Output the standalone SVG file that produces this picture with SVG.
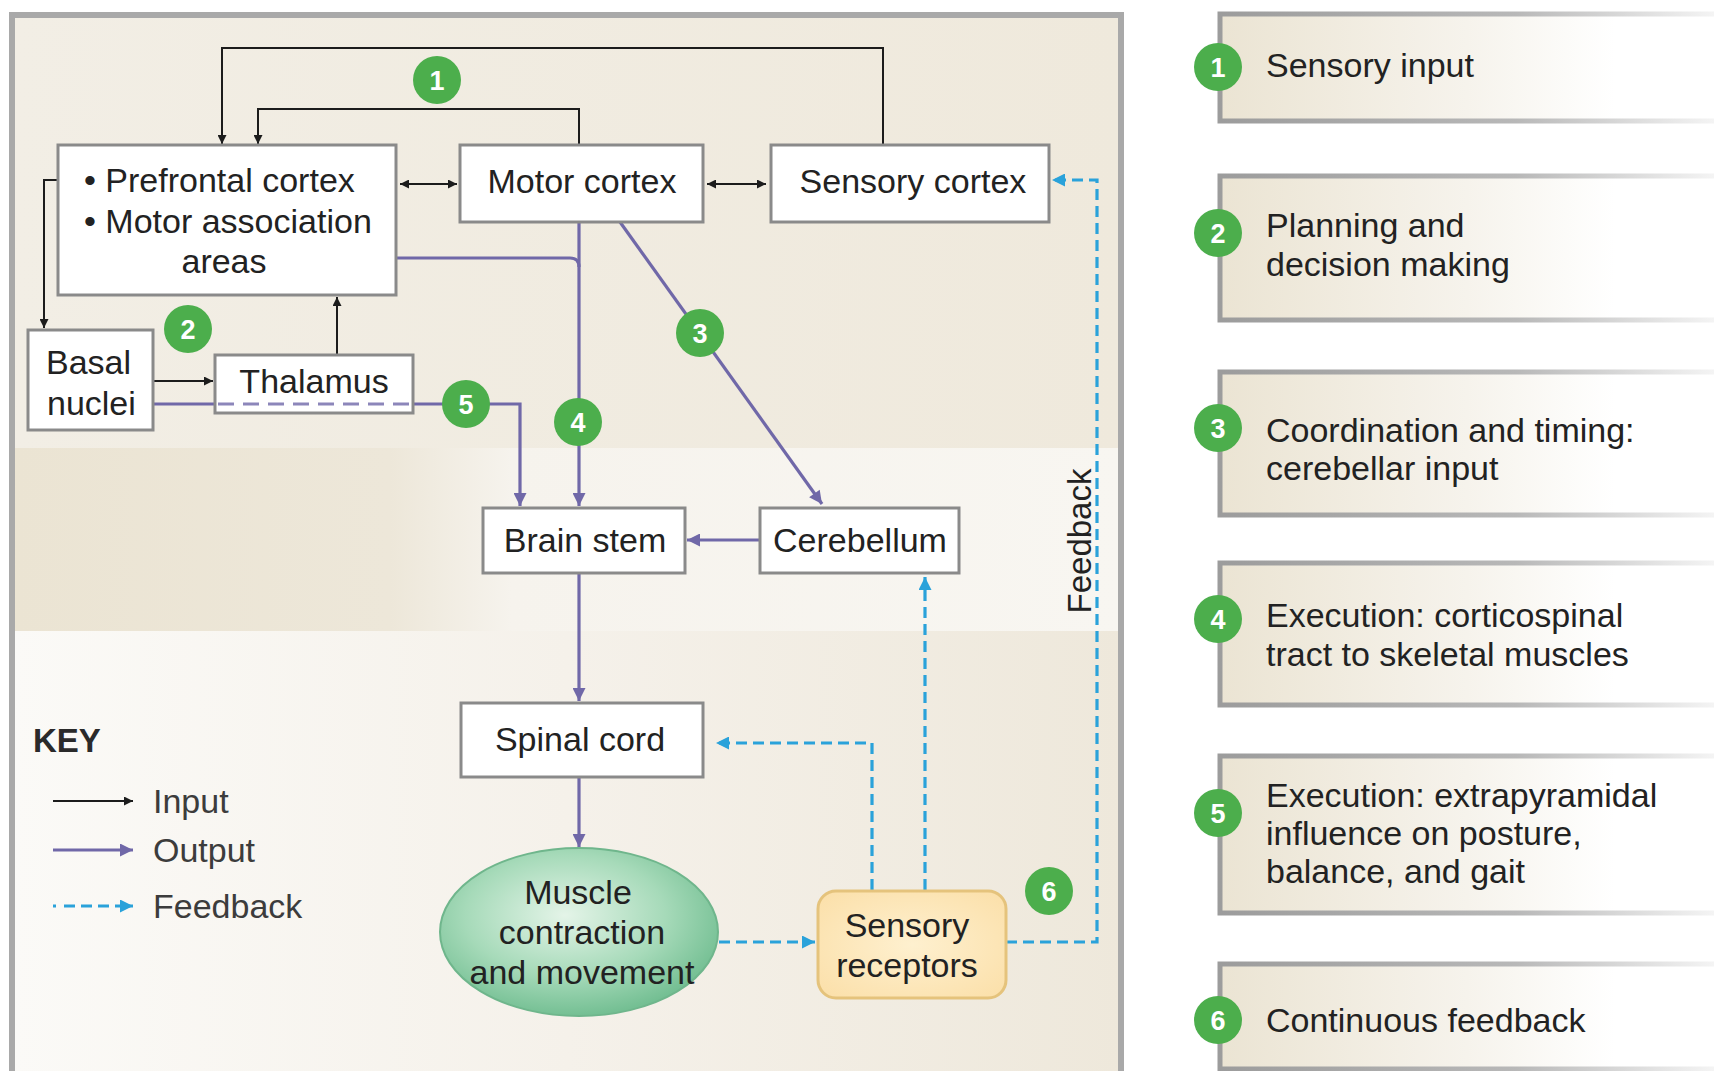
<svg xmlns="http://www.w3.org/2000/svg" width="1714" height="1071" viewBox="0 0 1714 1071">
<defs>
<style>
.t{font-family:"Liberation Sans",Arial,Helvetica,sans-serif;font-size:34px;fill:#222;}
.tc{text-anchor:middle;}
.key{font-family:"Liberation Sans",Arial,sans-serif;font-size:34px;fill:#3c3c3c;}
.box{fill:#fff;stroke:#8a8a8a;stroke-width:3;}
.in{fill:none;stroke:#1c1c1c;stroke-width:2;}
.out{fill:none;stroke:#7068a8;stroke-width:3.2;}
.fb{fill:none;stroke:#2aa2da;stroke-width:3.2;stroke-dasharray:11 6;}
.num circle{fill:#4cae4c;}
.num text{font-family:"Liberation Sans",Arial,sans-serif;font-size:27px;font-weight:bold;fill:#fff;text-anchor:middle;}
</style>
<marker id="aIn" viewBox="0 0 10 10" refX="10" refY="5" markerWidth="12" markerHeight="9" markerUnits="userSpaceOnUse" orient="auto-start-reverse"><path d="M0,0 L10,5 L0,10 z" fill="#1c1c1c"/></marker>
<marker id="aOut" viewBox="0 0 10 10" refX="10" refY="5" markerWidth="17" markerHeight="13" markerUnits="userSpaceOnUse" orient="auto"><path d="M0,0 L10,5 L0,10 z" fill="#7068a8"/></marker>
<marker id="aFb" viewBox="0 0 10 10" refX="10" refY="5" markerWidth="17" markerHeight="13" markerUnits="userSpaceOnUse" orient="auto"><path d="M0,0 L10,5 L0,10 z" fill="#2aa2da"/></marker>
<linearGradient id="gTop" x1="0" y1="0" x2="1" y2="0"><stop offset="0" stop-color="#f2eee5"/><stop offset="1" stop-color="#efe9dc"/></linearGradient>
<linearGradient id="gMid" x1="0" y1="0" x2="1" y2="0"><stop offset="0" stop-color="#ebe4d3"/><stop offset="0.34" stop-color="#ede7d9"/><stop offset="0.45" stop-color="#f6f3ed"/><stop offset="1" stop-color="#f8f6f1"/></linearGradient>
<linearGradient id="gBot" x1="0" y1="0" x2="1" y2="0"><stop offset="0" stop-color="#fbfaf7"/><stop offset="0.5" stop-color="#f5f1ea"/><stop offset="1" stop-color="#eee8db"/></linearGradient>
<linearGradient id="gSide" x1="0" y1="0" x2="1" y2="0"><stop offset="0" stop-color="#ebe4d3"/><stop offset="0.5" stop-color="#f6f3ec"/><stop offset="0.8" stop-color="#ffffff"/></linearGradient>
<linearGradient id="gSideS" gradientUnits="userSpaceOnUse" x1="1220" y1="0" x2="1714" y2="0"><stop offset="0" stop-color="#9c9c9c"/><stop offset="0.6" stop-color="#b8b8b8"/><stop offset="1" stop-color="#f4f4f4"/></linearGradient>
<radialGradient id="gMus" cx="0.45" cy="0.4" r="0.6"><stop offset="0" stop-color="#e4f4e8"/><stop offset="0.6" stop-color="#a6dab9"/><stop offset="1" stop-color="#74bf93"/></radialGradient>
<radialGradient id="gRec" cx="0.5" cy="0.5" r="0.7"><stop offset="0" stop-color="#fef0cf"/><stop offset="1" stop-color="#fbdfa8"/></radialGradient>
</defs>

<rect x="0" y="0" width="1714" height="1071" fill="#ffffff"/>

<!-- main panel background -->
<g id="panel">
<rect x="13" y="16" width="1108" height="432" fill="url(#gTop)"/>
<rect x="13" y="448" width="1108" height="183" fill="url(#gMid)"/>
<rect x="13" y="631" width="1108" height="450" fill="url(#gBot)"/>
<path d="M12 1075 V15 H1121 V1075" fill="none" stroke="#a9a9a9" stroke-width="6"/>
</g>

<!-- connectors -->
<g id="connectors">
<path class="in" d="M883 145 V48 H222 V144" marker-end="url(#aIn)"/>
<path class="in" d="M579 145 V109 H258 V144" marker-end="url(#aIn)"/>
<path class="in" d="M400 184 H457" marker-start="url(#aIn)" marker-end="url(#aIn)"/>
<path class="in" d="M707 184 H766" marker-start="url(#aIn)" marker-end="url(#aIn)"/>
<path class="in" d="M58 180 H44 V328" marker-end="url(#aIn)"/>
<path class="in" d="M153 381 H213" marker-end="url(#aIn)"/>
<path class="in" d="M337 355 V297" marker-end="url(#aIn)"/>

<path class="out" d="M396 258 H570 Q579 258 579 267"/>
<path class="out" d="M579 222 V506" marker-end="url(#aOut)"/>
<path class="out" d="M620 222 L822 504" marker-end="url(#aOut)"/>
<path class="out" d="M153 404 H216"/>
<path class="out" d="M413 404 H520 V506" marker-end="url(#aOut)"/>
<path class="out" d="M760 540 H687" marker-end="url(#aOut)"/>
<path class="out" d="M579 573 V701" marker-end="url(#aOut)"/>
<path class="out" d="M579 777 V847" marker-end="url(#aOut)"/>

<path class="fb" d="M719 942 H815" marker-end="url(#aFb)"/>
<path class="fb" d="M872 890 V743 H716" marker-end="url(#aFb)"/>
<path class="fb" d="M925 890 V577" marker-end="url(#aFb)"/>
<path class="fb" d="M1006 942 H1097 V180 H1052" marker-end="url(#aFb)"/>
</g>

<!-- nodes -->
<g id="prefrontal">
<rect class="box" x="58" y="145" width="338" height="150"/>
<text class="t" x="84" y="192">• Prefrontal cortex</text>
<text class="t" x="84" y="233">• Motor association</text>
<text class="t tc" x="224" y="273">areas</text>
</g>
<g id="motor-cortex">
<rect class="box" x="460" y="145" width="243" height="77"/>
<text class="t tc" x="582" y="193">Motor cortex</text>
</g>
<g id="sensory-cortex">
<rect class="box" x="771" y="145" width="278" height="77"/>
<text class="t tc" x="913" y="193">Sensory cortex</text>
</g>
<g id="basal-nuclei">
<rect class="box" x="28" y="330" width="125" height="100"/>
<text class="t" x="46" y="374">Basal</text>
<text class="t" x="47" y="415">nuclei</text>
</g>
<g id="thalamus">
<rect class="box" x="215" y="355" width="198" height="58"/>
<path d="M218 404 H411" fill="none" stroke="#8c86ba" stroke-width="3" stroke-dasharray="16 9"/>
<text class="t tc" x="314" y="393">Thalamus</text>
</g>
<g id="brain-stem">
<rect class="box" x="483" y="508" width="202" height="65"/>
<text class="t tc" x="585" y="552">Brain stem</text>
</g>
<g id="cerebellum">
<rect class="box" x="760" y="508" width="199" height="65"/>
<text class="t tc" x="860" y="552">Cerebellum</text>
</g>
<g id="spinal-cord">
<rect class="box" x="461" y="703" width="242" height="74"/>
<text class="t tc" x="580" y="751">Spinal cord</text>
</g>
<g id="muscle">
<ellipse cx="579" cy="932" rx="139" ry="84" fill="url(#gMus)" stroke="#6fb68c" stroke-width="2"/>
<text class="t tc" x="578" y="904">Muscle</text>
<text class="t tc" x="582" y="944">contraction</text>
<text class="t tc" x="582" y="984">and movement</text>
</g>
<g id="sensory-receptors">
<rect x="818" y="891" width="188" height="107" rx="18" fill="url(#gRec)" stroke="#e5c37c" stroke-width="3"/>
<text class="t tc" x="907" y="937">Sensory</text>
<text class="t tc" x="907" y="977">receptors</text>
</g>

<text class="t" transform="translate(1091,541) rotate(-90)" text-anchor="middle" style="font-size:33px">Feedback</text>

<!-- step markers on diagram -->
<g class="num" id="n1"><circle cx="437" cy="80" r="24"/><text x="437" y="90">1</text></g>
<g class="num" id="n2"><circle cx="188" cy="329" r="24"/><text x="188" y="339">2</text></g>
<g class="num" id="n3"><circle cx="700" cy="333" r="24"/><text x="700" y="343">3</text></g>
<g class="num" id="n4"><circle cx="578" cy="422" r="24"/><text x="578" y="432">4</text></g>
<g class="num" id="n5"><circle cx="466" cy="404" r="24"/><text x="466" y="414">5</text></g>
<g class="num" id="n6"><circle cx="1049" cy="891" r="24"/><text x="1049" y="901">6</text></g>

<!-- key -->
<g id="key">
<text x="33" y="752" style="font-family:'Liberation Sans',Arial,sans-serif;font-size:33px;font-weight:bold;fill:#2a2a2a">KEY</text>
<path class="in" d="M53 801 H133" marker-end="url(#aIn)"/>
<text class="key" x="153" y="813">Input</text>
<path class="out" d="M53 850 H133" marker-end="url(#aOut)"/>
<text class="key" x="153" y="862">Output</text>
<path class="fb" d="M53 906 H133" style="stroke-dasharray:3 8 11 6 11 6 11 6 40" marker-end="url(#aFb)"/>
<text class="key" x="153" y="918">Feedback</text>
</g>

<!-- right side legend -->
<g id="step1">
<rect x="1220" y="14" width="494" height="107" fill="url(#gSide)"/>
<path d="M1714 14 H1220 V121 H1714" fill="none" stroke="url(#gSideS)" stroke-width="5"/>
<g class="num"><circle cx="1218" cy="67" r="24"/><text x="1218" y="77">1</text></g>
<text class="t" x="1266" y="77">Sensory input</text>
</g>
<g id="step2">
<rect x="1220" y="176" width="494" height="144" fill="url(#gSide)"/>
<path d="M1714 176 H1220 V320 H1714" fill="none" stroke="url(#gSideS)" stroke-width="5"/>
<g class="num"><circle cx="1218" cy="233" r="24"/><text x="1218" y="243">2</text></g>
<text class="t" x="1266" y="237">Planning and</text>
<text class="t" x="1266" y="276">decision making</text>
</g>
<g id="step3">
<rect x="1220" y="372" width="494" height="143" fill="url(#gSide)"/>
<path d="M1714 372 H1220 V515 H1714" fill="none" stroke="url(#gSideS)" stroke-width="5"/>
<g class="num"><circle cx="1218" cy="428" r="24"/><text x="1218" y="438">3</text></g>
<text class="t" x="1266" y="442">Coordination and timing:</text>
<text class="t" x="1266" y="480">cerebellar input</text>
</g>
<g id="step4">
<rect x="1220" y="563" width="494" height="142" fill="url(#gSide)"/>
<path d="M1714 563 H1220 V705 H1714" fill="none" stroke="url(#gSideS)" stroke-width="5"/>
<g class="num"><circle cx="1218" cy="619" r="24"/><text x="1218" y="629">4</text></g>
<text class="t" x="1266" y="627">Execution: corticospinal</text>
<text class="t" x="1266" y="666">tract to skeletal muscles</text>
</g>
<g id="step5">
<rect x="1220" y="756" width="494" height="157" fill="url(#gSide)"/>
<path d="M1714 756 H1220 V913 H1714" fill="none" stroke="url(#gSideS)" stroke-width="5"/>
<g class="num"><circle cx="1218" cy="813" r="24"/><text x="1218" y="823">5</text></g>
<text class="t" x="1266" y="807">Execution: extrapyramidal</text>
<text class="t" x="1266" y="845">influence on posture,</text>
<text class="t" x="1266" y="883">balance, and gait</text>
</g>
<g id="step6">
<rect x="1220" y="964" width="494" height="107" fill="url(#gSide)"/>
<path d="M1714 964 H1220 V1069 H1714" fill="none" stroke="url(#gSideS)" stroke-width="5"/>
<g class="num"><circle cx="1218" cy="1020" r="24"/><text x="1218" y="1030">6</text></g>
<text class="t" x="1266" y="1032">Continuous feedback</text>
</g>
</svg>
